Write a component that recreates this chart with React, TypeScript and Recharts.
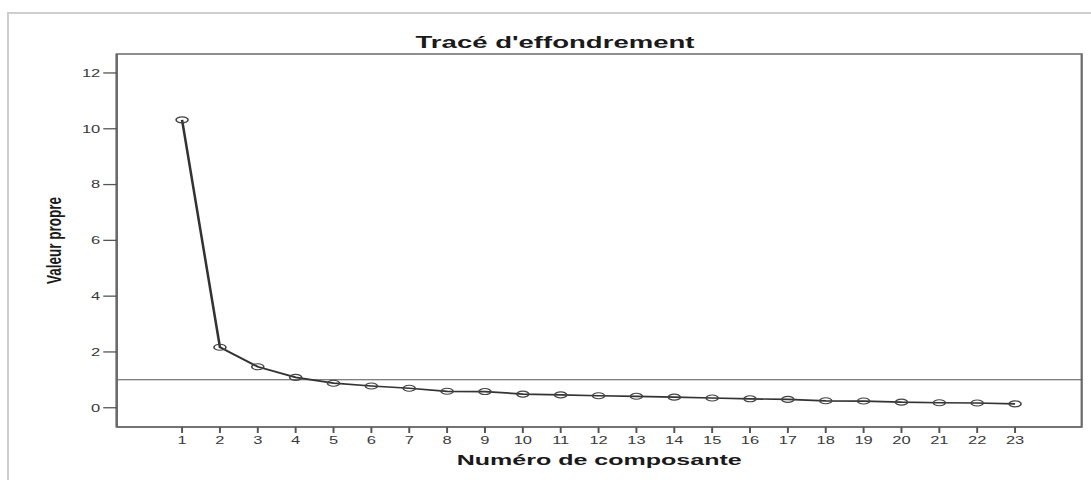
import React from "react";
import { LineChart, Line, XAxis, YAxis, ReferenceLine, ReferenceArea } from "recharts";

const components = [1, 2, 3, 4, 5, 6, 7, 8, 9, 10, 11, 12, 13, 14, 15, 16, 17, 18, 19, 20, 21, 22, 23];
const eigenvalues = [10.32, 2.17, 1.47, 1.09, 0.88, 0.78, 0.7, 0.59, 0.58, 0.49, 0.46, 0.43, 0.41, 0.38, 0.35, 0.32, 0.3, 0.25, 0.24, 0.2, 0.18, 0.17, 0.14];
const yTicks = [0, 2, 4, 6, 8, 10, 12];
const kaiserLine = 1;
const xDomain: [number, number] = [-0.725, 24.76];
const yDomain: [number, number] = [-0.69, 12.68];

const title = "Tracé d'effondrement";
const xLabel = "Numéro de composante";
const yLabel = "Valeur propre";

const data = components.map((c, i) => ({ component: c, value: eigenvalues[i] }));

const FONT = "'Liberation Sans', Arial, sans-serif";
const SX = 1.5;
const W = 720;
const H = 483;

const XLabel = (props: any) => {
  const vb = props.viewBox || {};
  const cx = vb.x + vb.width / 2;
  const y = vb.y + 38;
  return (
    <text x={cx} y={y} textAnchor="middle" fontFamily={FONT} fontWeight="bold" fontSize={15} fill="#1a1a1a" textLength={190} lengthAdjust="spacingAndGlyphs">
      {xLabel}
    </text>
  );
};

const YLabel = (props: any) => {
  const vb = props.viewBox || {};
  const cx = vb.x + 30.7;
  const cy = vb.y + vb.height / 2;
  return (
    <text x={cx} y={cy} transform={`rotate(-90, ${cx}, ${cy})`} textAnchor="middle" dominantBaseline="central" fontFamily={FONT} fontWeight="bold" fontSize={13.5} fill="#1a1a1a">
      {yLabel}
    </text>
  );
};

const EllipseDot = (props: any) => {
  const { cx, cy, index } = props;
  if (cx == null || cy == null) return null;
  return <ellipse key={`dot-${index}`} cx={cx} cy={cy} rx={4} ry={3} fill="none" stroke="#444" strokeWidth={1.1} />;
};

export default function App() {
  return (
    <div style={{ position: "relative", width: 1091, height: 483, overflow: "hidden", background: "#fff" }}>
      <style>{`html,body{margin:0;padding:0;overflow:hidden;background:#fff}`}</style>
      <div style={{ position: "absolute", left: 8, top: 12, width: 1083, height: 2, background: "#cdcdcd" }} />
      <div style={{ position: "absolute", left: 7, top: 12, width: 2, height: 468, background: "#cdcdcd" }} />
      <div style={{ position: "absolute", left: 8, top: 0, width: W, height: H, transform: `scaleX(${SX})`, transformOrigin: "0 0" }}>
        <svg width={W} height={60} style={{ position: "absolute", left: 0, top: 0, pointerEvents: "none" }}>
          <text x={364.7} y={48} textAnchor="middle" fontFamily={FONT} fontWeight="bold" fontSize={17} fill="#1a1a1a" textLength={186} lengthAdjust="spacingAndGlyphs">
            {title}
          </text>
        </svg>
        <LineChart width={W} height={H} data={data} margin={{ top: 54, right: 4.2, bottom: 6, left: 0 }}>
          <ReferenceArea x1={xDomain[0]} x2={xDomain[1]} y1={yDomain[0]} y2={yDomain[1]} fill="none" stroke="#6a6a6a" strokeWidth={1.5} ifOverflow="visible" />
          <XAxis
            dataKey="component"
            type="number"
            domain={xDomain}
            ticks={components}
            interval={0}
            allowDataOverflow
            height={50}
            tickSize={6}
            tickMargin={3}
            stroke="#6a6a6a"
            axisLine={{ stroke: "#6a6a6a", strokeWidth: 1.5 }}
            tickLine={{ stroke: "#555", strokeWidth: 1.3 }}
            tick={{ fontSize: 11, fontFamily: FONT, fill: "#3a3a3a" }}
            label={{ content: XLabel }}
          />
          <YAxis
            type="number"
            domain={yDomain}
            ticks={yTicks}
            allowDataOverflow
            width={72.5}
            tickSize={9}
            tickMargin={2}
            stroke="#6a6a6a"
            axisLine={{ stroke: "#6a6a6a", strokeWidth: 1.5 }}
            tickLine={{ stroke: "#555", strokeWidth: 1.3 }}
            tick={{ fontSize: 11, fontFamily: FONT, fill: "#3a3a3a" }}
            label={{ content: YLabel }}
          />
          <ReferenceLine y={kaiserLine} stroke="#555" strokeWidth={1} ifOverflow="visible" />
          <Line
            type="linear"
            dataKey="value"
            stroke="#333"
            strokeWidth={1.7}
            isAnimationActive={false}
            dot={EllipseDot}
            activeDot={false}
          />
        </LineChart>
      </div>
    </div>
  );
}
